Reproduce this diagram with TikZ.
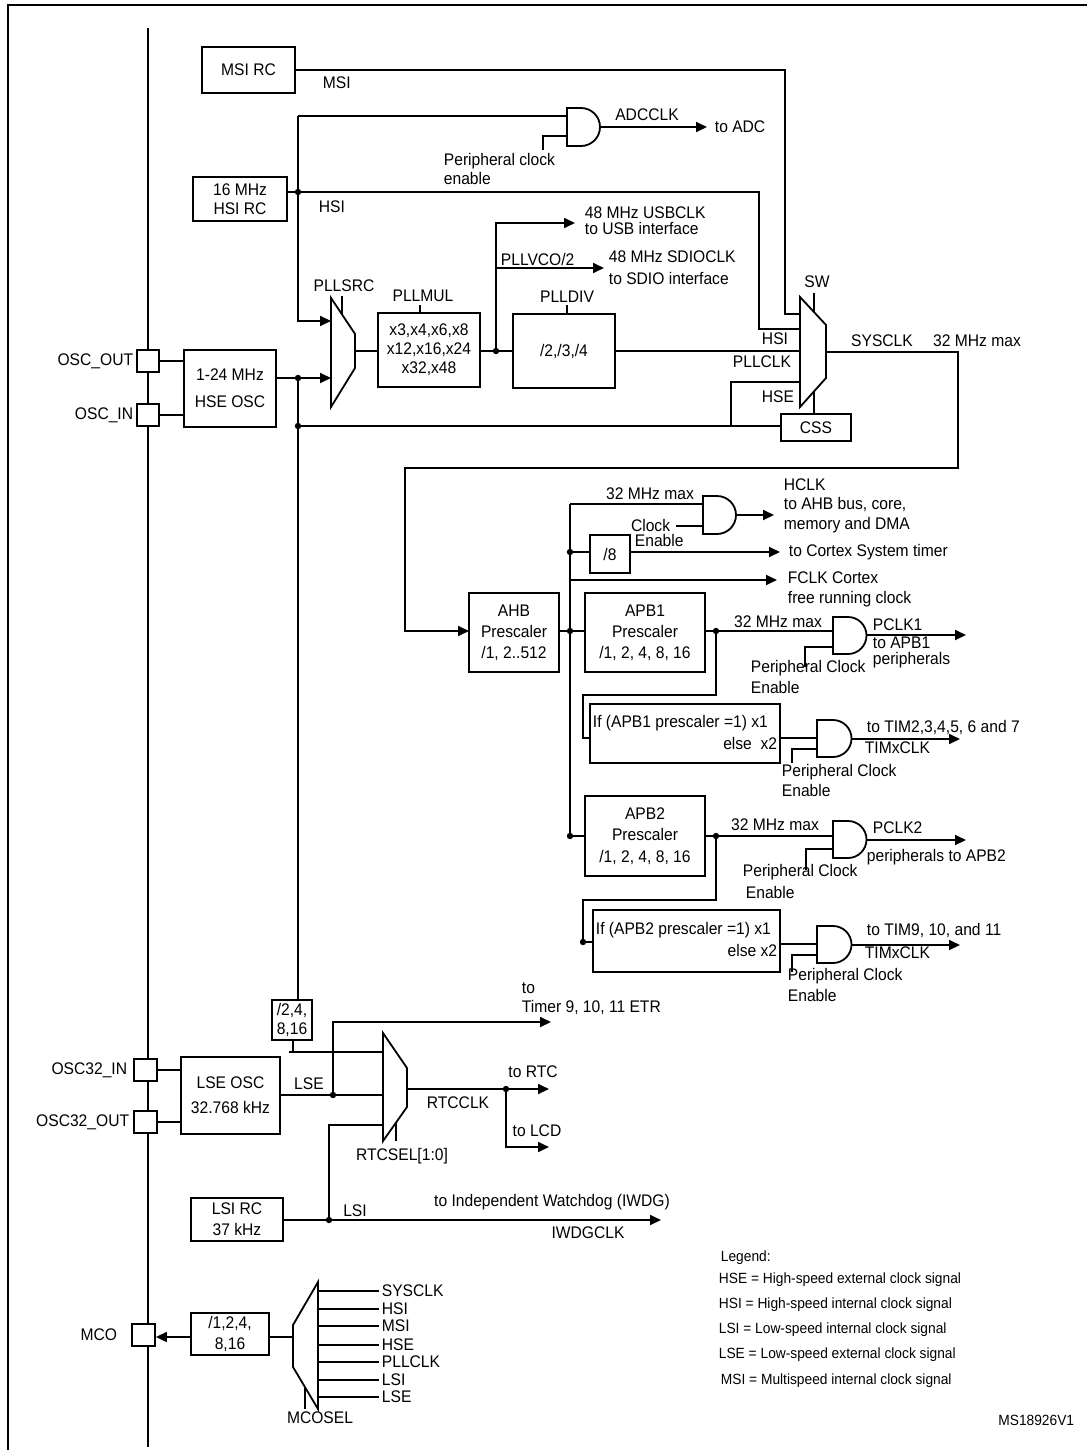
\documentclass[tikz,border=0pt]{standalone}
\usepackage{fontspec}
\setmainfont{Liberation Sans}[FakeStretch=0.93]
\usetikzlibrary{arrows.meta}
\begin{document}
\fontsize{8.4}{9.6}\selectfont
\begin{tikzpicture}[x=0.5pt,y=-0.5pt,line width=0.9pt,
  box/.style={draw,fill=white,line width=0.9pt,inner sep=0pt,align=center},
  arr/.style={-{Triangle[length=5.5pt,width=5pt]}},
  dot/.style={circle,fill=black,inner sep=0pt,minimum size=3.2pt},
  lbl/.style={inner sep=0pt,align=left},
  leg/.style={inner sep=0pt,anchor=west,font=\fontsize{7.4}{8}\selectfont}]
\newcommand\bx[6]{\node[box,minimum width={(#4-#2)*0.5pt},minimum height={(#5-#3)*0.5pt}] (#1) at ({(#2+#4)/2},{(#3+#5)/2}) {#6};}
\newcommand\gate[4]{\draw[fill=white] (#1,#2) -- ++(#4,0) arc[start angle=90,end angle=-90,radius={(#3-#2)*0.25pt}] -- (#1,#3) -- cycle;}
\useasboundingbox (0,0) rectangle (1087,1450);
% frame
\draw (8,1450) -- (8,5) -- (1087,5);
% bus
\draw (148,28) -- (148,1447);
% ---------- top
\bx{msi}{202}{47}{295}{93}{MSI RC}
\draw (msi.east) -- (785,70) -- (785,314) -- (800,314);
\node[lbl,anchor=west] at (322,83) {MSI};
% ADC
\draw (298,116) -- (567,116);
\draw (543,150) -- (543,136) -- (567,136);
\gate{567}{108}{146}{14}
\draw[arr] (600,127) -- (707,127);
\node[lbl] at (647,115) {ADCCLK};
\node[lbl,anchor=west] at (714,127) {to ADC};
\node[lbl,anchor=north west] at (443,152) {Peripheral clock\\enable};
% HSI
\bx{hsi}{193}{177}{287}{221}{16 MHz\\HSI RC}
\draw (287,192) -- (759,192) -- (759,329) -- (800,329);
\node[dot] at (298,192) {};
\node[lbl,anchor=west] at (318,207) {HSI};
\draw[arr] (298,116) -- (298,321) -- (331,321);
% PLLSRC mux
\draw[fill=white] (331,298) -- (355,334) -- (355,368) -- (331,407) -- cycle;
\draw (342,296) -- (342,314);
\node[lbl] at (344,286) {PLLSRC};
% HSE
\bx{hse}{184}{350}{276}{427}{1-24 MHz\\[4pt]HSE OSC}
\draw[arr] (276,378) -- (331,378);
\node[dot] at (298,378) {};
\draw (298,378) -- (298,1000);
\node[dot] at (298,426) {};
\draw (298,426) -- (781,426);
\bx{po}{137}{350}{159}{372}{}
\bx{pi}{137}{404}{159}{426}{}
\draw (po.east) -- (184,361);
\draw (pi.east) -- (184,415);
\node[lbl,anchor=east] at (134,361) {OSC\_OUT};
\node[lbl,anchor=east] at (134,415) {OSC\_IN};
% PLLMUL
\draw (355,351) -- (378,351);
\bx{mul}{378}{313}{480}{387}{x3,x4,x6,x8\\x12,x16,x24\\x32,x48}
\draw (420,305) -- (420,313);
\node[lbl] at (423,296) {PLLMUL};
\draw (480,351) -- (513,351);
\node[dot] at (496,351) {};
\draw[arr] (496,351) -- (496,223) -- (575,223);
\draw[arr] (496,268) -- (604,268);
\node[lbl,anchor=west] at (584,213) {48 MHz USBCLK};
\node[lbl,anchor=west] at (584,228) {to USB interface};
\node[lbl,anchor=west] at (500,259) {PLLVCO/2};
\node[lbl,anchor=west] at (608,257) {48 MHz SDIOCLK};
\node[lbl,anchor=west] at (608,278) {to SDIO interface};
\bx{div}{513}{314}{615}{388}{/2,/3,/4}
\draw (567,305) -- (567,314);
\node[lbl] at (567,297) {PLLDIV};
\draw (615,351) -- (800,351);
% SW mux
\draw[fill=white] (800,297) -- (826,325) -- (826,378) -- (800,407) -- cycle;
\draw (814,293) -- (814,312);
\node[lbl] at (817,282) {SW};
\draw (731,426) -- (731,382) -- (800,382);
\node[lbl] at (775,339) {HSI};
\node[lbl] at (762,362) {PLLCLK};
\node[lbl] at (778,397) {HSE};
\bx{css}{781}{414}{851}{441}{CSS}
\draw (814,391) -- (814,414);
\draw[arr] (826,352) -- (958,352) -- (958,468) -- (405,468) -- (405,631) -- (469,631);
\node[lbl] at (882,341) {SYSCLK};
\node[lbl] at (977,341) {32 MHz max};
% ---------- AHB / APB
\bx{ahb}{469}{593}{559}{672}{AHB\\[1pt]Prescaler\\[1pt]/1, 2..512}
\bx{apb1}{585}{593}{705}{672}{APB1\\[1pt]Prescaler\\[1pt]/1, 2, 4, 8, 16}
\draw (559,631) -- (585,631);
\node[dot] at (570,631) {};
\draw (570,504) -- (570,836);
\draw (570,504) -- (703,504);
\gate{703}{496}{534}{14}
\draw (676,526) -- (703,526);
\node[lbl] at (650,494) {32 MHz max};
\node[lbl,anchor=east] at (671,525) {Clock};
\node[lbl,anchor=west] at (634,540) {Enable};
\draw[arr] (736,515) -- (774,515);
\node[lbl,anchor=north west,align=left] at (783,478) {HCLK\\to AHB bus, core,\\memory and DMA};
\bx{d8}{590}{535}{630}{573}{/8}
\node[dot] at (570,552) {};
\draw (570,552) -- (590,552);
\draw[arr] (630,552) -- (780,552);
\node[lbl,anchor=west] at (788,552) {to Cortex System timer};
\draw[arr] (570,580) -- (777,580);
\node[lbl,anchor=west] at (787,578) {FCLK Cortex};
\node[lbl,anchor=west] at (787,599) {free running clock};
% APB1 out
\draw (705,631) -- (833,631);
\node[dot] at (716,631) {};
\draw (805,667) -- (805,647) -- (833,647);
\gate{833}{617}{654}{15}
\draw[arr] (867,635) -- (966,635);
\node[lbl] at (778,622) {32 MHz max};
\node[lbl,anchor=west] at (872,625) {PCLK1};
\node[lbl,anchor=west] at (872,643) {to APB1};
\node[lbl,anchor=west] at (872,660) {peripherals};
\node[lbl,anchor=west] at (750,668) {Peripheral Clock};
\node[lbl,anchor=west] at (750,687) {Enable};
\draw (716,631) -- (716,695) -- (583,695) -- (583,738) -- (590,738);
\bx{t1}{590}{704}{780}{763}{}
\node[lbl,anchor=west] at (592,723) {If (APB1 prescaler =1) x1};
\node[lbl,anchor=east] at (778,743) {else\ \ x2};
\draw (780,738) -- (817,738);
\draw (792,763) -- (792,749) -- (817,749);
\gate{817}{720}{757}{16}
\draw[arr] (852,739) -- (960,739);
\node[lbl,anchor=west] at (866,727) {to TIM2,3,4,5, 6 and 7};
\node[lbl,anchor=west] at (864,748) {TIMxCLK};
\node[lbl,anchor=west] at (781,772) {Peripheral Clock};
\node[lbl,anchor=west] at (781,790) {Enable};
% APB2
\bx{apb2}{585}{796}{705}{876}{APB2\\[1pt]Prescaler\\[1pt]/1, 2, 4, 8, 16}
\node[dot] at (570,836) {};
\draw (570,836) -- (585,836);
\draw (705,836) -- (833,836);
\node[dot] at (716,836) {};
\draw (806,870) -- (806,849) -- (833,849);
\gate{833}{821}{858}{15}
\draw[arr] (867,840) -- (966,840);
\node[lbl] at (775,825) {32 MHz max};
\node[lbl,anchor=west] at (872,828) {PCLK2};
\node[lbl,anchor=west] at (866,857) {peripherals to APB2};
\node[lbl,anchor=west] at (742,872) {Peripheral Clock};
\node[lbl,anchor=west] at (745,892) {Enable};
\draw (716,836) -- (716,900) -- (583,900) -- (583,942) -- (593,942);
\node[dot] at (583,942) {};
\bx{t2}{593}{910}{780}{972}{}
\node[lbl,anchor=west] at (595,930) {If (APB2 prescaler =1) x1};
\node[lbl,anchor=east] at (778,950) {else x2};
\draw (780,944) -- (817,944);
\draw (792,972) -- (792,955) -- (817,955);
\gate{817}{926}{963}{16}
\draw[arr] (852,945) -- (960,945);
\node[lbl,anchor=west] at (866,930) {to TIM9, 10, and 11};
\node[lbl,anchor=west] at (864,953) {TIMxCLK};
\node[lbl,anchor=west] at (787,976) {Peripheral Clock};
\node[lbl,anchor=west] at (787,995) {Enable};
% ---------- bottom
\bx{d16}{272}{1000}{312}{1040}{/2,4,\\8,16}
\draw (293,1040) -- (293,1052);
\draw (289,1052) -- (383,1052);
\draw[fill=white] (383,1033) -- (407,1068) -- (407,1107) -- (383,1141) -- cycle;
\bx{lse}{181}{1057}{280}{1134}{LSE OSC\\[3pt]32.768 kHz}
\bx{p32i}{134}{1059}{157}{1081}{}
\bx{p32o}{134}{1111}{157}{1133}{}
\draw (p32i.east) -- (181,1070);
\draw (p32o.east) -- (181,1122);
\node[lbl,anchor=east] at (128,1070) {OSC32\_IN};
\node[lbl,anchor=east] at (130,1122) {OSC32\_OUT};
\draw (280,1095) -- (383,1095);
\node[dot] at (333,1095) {};
\draw[arr] (333,1095) -- (333,1022) -- (551,1022);
\node[lbl,anchor=west] at (521,988) {to};
\node[lbl,anchor=west] at (521,1007) {Timer 9, 10, 11 ETR};
\node[lbl] at (309,1084) {LSE};
\draw[arr] (407,1089) -- (549,1089);
\node[dot] at (506,1089) {};
\draw[arr] (506,1089) -- (506,1147) -- (549,1147);
\node[lbl] at (533,1072) {to RTC};
\node[lbl] at (537,1131) {to LCD};
\node[lbl] at (458,1103) {RTCCLK};
\draw (396,1123) -- (396,1141);
\node[lbl] at (402,1156) {RTCSEL[1:0]};
\bx{lsi}{191}{1198}{283}{1241}{LSI RC\\[1pt]37 kHz}
\draw[arr] (283,1220) -- (661,1220);
\node[dot] at (329,1220) {};
\draw (329,1220) -- (329,1125) -- (383,1125);
\node[lbl] at (355,1211) {LSI};
\node[lbl] at (552,1202) {to Independent Watchdog (IWDG)};
\node[lbl] at (588,1233) {IWDGCLK};
% MCO
\bx{mco}{132}{1324}{155}{1346}{}
\node[lbl,anchor=east] at (118,1335) {MCO};
\bx{mdiv}{191}{1313}{269}{1355}{/1,2,4,\\[1pt]8,16}
\draw[arr] (mdiv.west |- 0,1337) -- (mco.east |- 0,1337);
\draw (269,1337) -- (293,1337);
\draw[fill=white] (318,1282) -- (318,1409) -- (293,1367) -- (293,1325) -- cycle;
\foreach \yy/\tt in {1291/SYSCLK,1309/HSI,1326/MSI,1345/HSE,1362/PLLCLK,1380/LSI,1397/LSE}{
  \draw (318,\yy) -- (379,\yy);
  \node[lbl,anchor=west] at (381,\yy) {\tt};
}
\draw (305,1387) -- (305,1409);
\node[lbl] at (320,1418) {MCOSEL};
% legend
\node[leg] at (720,1258) {Legend:};
\node[leg] at (718,1280) {HSE = High-speed external clock signal};
\node[leg] at (718,1305) {HSI = High-speed internal clock signal};
\node[leg] at (718,1330) {LSI = Low-speed internal clock signal};
\node[leg] at (718,1355) {LSE = Low-speed external clock signal};
\node[leg] at (720,1381) {MSI = Multispeed internal clock signal};
\node[lbl,anchor=east,font=\fontsize{7.4}{8}\selectfont] at (1075,1420) {MS18926V1};
\end{tikzpicture}
\end{document}
